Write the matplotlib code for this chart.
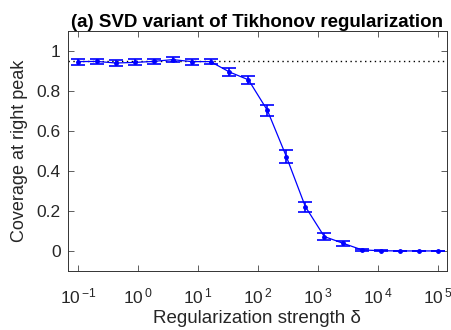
import numpy as np
import matplotlib
matplotlib.use("Agg")
import matplotlib.pyplot as plt
from matplotlib.ticker import NullLocator, FixedLocator

# Dados
delta = np.logspace(-1, 5, 20)
coverage = [0.947, 0.948, 0.940, 0.943, 0.948, 0.957, 0.947, 0.947, 0.895, 0.856,
            0.703, 0.472, 0.222, 0.072, 0.038, 0.005, 0.001, 0.0, 0.0, 0.0]
err = [0.015, 0.014, 0.016, 0.015, 0.014, 0.013, 0.015, 0.014, 0.019, 0.021,
       0.027, 0.032, 0.025, 0.016, 0.012, 0.005, 0.003, 0.002, 0.002, 0.002]
nominal = 0.95
xexp = [-1, 0, 1, 2, 3, 4, 5]
yticks = [0, 0.2, 0.4, 0.6, 0.8, 1]

plt.rcParams['font.family'] = ['Liberation Sans', 'DejaVu Sans']
plt.rcParams['mathtext.fontset'] = 'custom'
plt.rcParams['mathtext.rm'] = 'Liberation Sans'
plt.rcParams['mathtext.it'] = 'Liberation Sans'

fig = plt.figure(figsize=(4.52, 3.3), dpi=100)
ax = fig.add_axes([0.150, 0.179, 0.839, 0.727])

ax.axhline(nominal, color='black', linestyle=(0, (1, 2.5)), linewidth=1.0, zorder=1)
ax.errorbar(delta, coverage, yerr=err, color='#0000ff', marker='.', markersize=5,
            linewidth=0.9, elinewidth=1.2, capsize=5, capthick=1.2, zorder=3)

ax.set_xscale('log')
ax.set_xlim(10 ** -1.167, 10 ** 5.15)
ax.set_ylim(-0.1, 1.1)
ax.xaxis.set_major_locator(FixedLocator([10.0 ** k for k in xexp]))
ax.xaxis.set_minor_locator(NullLocator())
ax.set_xticklabels(['10$^{\\,\\mathregular{%d}}$' % k for k in xexp])
ax.set_yticks(yticks)
ax.set_yticklabels(['%g' % v for v in yticks])

ax.tick_params(direction='in', top=True, right=True, length=4, width=0.6,
               labelsize=12.5, color='#444444', labelcolor='#262626', pad=5)
ax.tick_params(axis='x', pad=11)
for s in ax.spines.values():
    s.set_color('#333333')
    s.set_linewidth(0.7)

ax.set_xlabel('Regularization strength δ', fontsize=13.5, color='#262626', labelpad=3)
ax.set_ylabel('Coverage at right peak', fontsize=13, color='#262626', labelpad=6)
ax.set_title('(a) SVD variant of Tikhonov regularization', fontsize=13.5,
             fontweight='bold', pad=3)

fig.savefig('out.png', dpi=100)
